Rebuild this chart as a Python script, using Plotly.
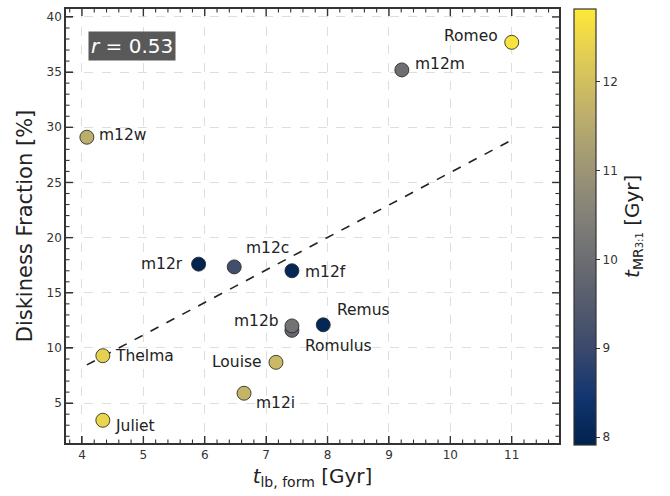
import numpy as np
import plotly.graph_objects as go

# Formation lookback time [Gyr], diskiness fraction [%] and last 3:1 merger time [Gyr]
names = ["Romulus", "m12b", "Romeo", "m12m", "m12w", "m12r", "m12c", "m12f",
         "Remus", "Thelma", "Louise", "m12i", "Juliet"]
t_form = [7.42, 7.42, 11.00, 9.21, 4.08, 5.90, 6.48, 7.42, 7.93, 4.34, 7.16, 6.64, 4.34]
disk_frac = [11.6, 12.0, 37.7, 35.2, 29.1, 17.6, 17.35, 17.0, 12.1, 9.3, 8.7, 5.9, 3.45]
t_merger = [9.85, 10.15, 12.72, 10.0, 11.6, 7.98, 9.15, 8.05, 8.05, 12.35, 11.85, 11.75, 12.45]

x_ticks = [4, 5, 6, 7, 8, 9, 10, 11]
y_ticks = [5, 10, 15, 20, 25, 30, 35, 40]
cbar_ticks = [8, 9, 10, 11, 12]

# label placement: (xanchor, xshift px, yshift px)
label_pos = {
    "Romeo": ("right", -12, 6), "m12m": ("left", 11, 6), "m12w": ("left", 10, 2),
    "m12r": ("right", -14, 0), "m12c": ("left", 10, 19), "m12f": ("left", 11, -1),
    "m12b": ("right", -11, 5), "Romulus": ("left", 11, -16), "Remus": ("left", 12, 15),
    "Thelma": ("left", 10, 0), "Louise": ("right", -12, 0), "m12i": ("left", 10, -10),
    "Juliet": ("left", 10, -6),
}

FONT = "DejaVu Sans"
TICK_COLOR = "#333333"
W, H = 670, 496
M_L, M_R, M_T, M_B = 66, 111, 7, 53
PLOT_W, PLOT_H = W - M_L - M_R, H - M_T - M_B
X_RANGE = [3.74, 11.77]
Y_RANGE = [1.39, 40.72]
C_RANGE = [7.91, 12.82]
CBAR_X, CBAR_THICK = 1.0304, 22

# data units per screen pixel
DX = (X_RANGE[1] - X_RANGE[0]) / PLOT_W
DY = (Y_RANGE[1] - Y_RANGE[0]) / PLOT_H

x = np.array(t_form)
y = np.array(disk_frac)
slope, intercept = np.polyfit(x, y, 1)
r = np.corrcoef(x, y)[0, 1]
xf = np.array([x.min(), x.max()])

fig = go.Figure()
fig.add_trace(go.Scatter(
    x=xf, y=intercept + slope * xf, mode="lines",
    line=dict(color="#222222", width=1.6, dash="dash"),
    hoverinfo="skip", showlegend=False,
))


# inward tick marks on all four frame sides, built as one segmented line trace
def tick_segments(xvals, yvals, length_px):
    sx, sy = [], []
    for v in xvals:
        sx += [v, v, None, v, v, None]
        sy += [Y_RANGE[0], Y_RANGE[0] + length_px * DY, None,
               Y_RANGE[1], Y_RANGE[1] - length_px * DY, None]
    for v in yvals:
        sx += [X_RANGE[0], X_RANGE[0] + length_px * DX, None,
               X_RANGE[1], X_RANGE[1] - length_px * DX, None]
        sy += [v, v, None, v, v, None]
    return sx, sy


x_minor = [v for v in np.round(np.arange(x_ticks[0] - 1, x_ticks[-1] + 1, 0.2), 2)
           if X_RANGE[0] < v < X_RANGE[1] and v not in x_ticks]
y_minor = [v for v in np.arange(y_ticks[0] - 5, y_ticks[-1] + 1, 1)
           if Y_RANGE[0] < v < Y_RANGE[1] and v not in y_ticks]

for xv, yv, ln, wd in ((x_ticks, y_ticks, 7, 1.4), (x_minor, y_minor, 3.5, 1.1)):
    sx, sy = tick_segments(xv, yv, ln)
    fig.add_trace(go.Scatter(x=sx, y=sy, mode="lines", line=dict(color=TICK_COLOR, width=wd),
                             hoverinfo="skip", showlegend=False, cliponaxis=False))

# colour-bar ticks on its right edge (drawn outside the plot area)
cb_right_x = X_RANGE[0] + (CBAR_X * PLOT_W + CBAR_THICK) * DX
cx, cy = [], []
for v in cbar_ticks:
    yv = Y_RANGE[0] + (v - C_RANGE[0]) / (C_RANGE[1] - C_RANGE[0]) * (Y_RANGE[1] - Y_RANGE[0])
    cx += [cb_right_x, cb_right_x + 4 * DX, None]
    cy += [yv, yv, None]
fig.add_trace(go.Scatter(x=cx, y=cy, mode="lines", line=dict(color=TICK_COLOR, width=1.2),
                         hoverinfo="skip", showlegend=False, cliponaxis=False))

fig.add_trace(go.Scatter(
    x=t_form, y=disk_frac, mode="markers", text=names,
    marker=dict(
        size=14, color=t_merger, colorscale="Cividis", cmin=C_RANGE[0], cmax=C_RANGE[1],
        line=dict(color="rgba(40,40,40,0.85)", width=1),
        colorbar=dict(
            thickness=CBAR_THICK, len=PLOT_H, lenmode="pixels", x=CBAR_X, xanchor="left",
            y=1, yanchor="top", xpad=0, ypad=0,
            tickvals=cbar_ticks, ticks="outside", ticklen=4, tickwidth=1.2,
            tickcolor=TICK_COLOR, tickfont=dict(family=FONT, size=12, color="#333"),
            outlinecolor="#333", outlinewidth=1.2,
        ),
    ),
    showlegend=False,
))

for n, xi, yi in zip(names, t_form, disk_frac):
    anchor, dx, dy = label_pos[n]
    fig.add_annotation(
        x=xi, y=yi, text=n, showarrow=False, xanchor=anchor, yanchor="middle",
        xshift=dx, yshift=dy, font=dict(family=FONT, size=15.5, color="#222"),
    )

fig.add_annotation(
    xref="paper", yref="paper", x=0.044, y=0.95, xanchor="left", yanchor="top",
    text=f"<i>r</i> = {r:.2f}", showarrow=False, bgcolor="#595959",
    borderpad=2, font=dict(family=FONT, size=20, color="white"),
)

# colour-bar title
fig.add_annotation(
    xref="paper", yref="paper", x=1.15, y=0.5, xanchor="center", yanchor="middle",
    text="<i>t</i><sub>MR<span style='font-size:10px'>3:1</span></sub> [Gyr]",
    textangle=-90, showarrow=False,
    font=dict(family=FONT, size=20, color="#222"),
)

axis_common = dict(
    showline=True, linecolor="#333", linewidth=1.5, mirror=True,
    ticks="inside", ticklen=7, tickwidth=1.4, tickcolor=TICK_COLOR,
    tickfont=dict(family=FONT, size=12, color="#333"),
    showgrid=True, gridcolor="rgba(0,0,0,0.13)", griddash="dash", gridwidth=1,
    zeroline=False, tickmode="linear",
)
fig.update_xaxes(
    range=X_RANGE, tick0=x_ticks[0], dtick=x_ticks[1] - x_ticks[0], **axis_common,
    title=dict(text="<i>t</i><sub>lb, form</sub> [Gyr]",
               font=dict(family=FONT, size=20, color="#222"), standoff=8),
)
fig.update_yaxes(
    range=Y_RANGE, tick0=y_ticks[0], dtick=y_ticks[1] - y_ticks[0], **axis_common,
    title=dict(text="Diskiness Fraction [%]",
               font=dict(family=FONT, size=21, color="#222"), standoff=8),
)

fig.update_layout(
    width=W, height=H, margin=dict(l=M_L, r=M_R, t=M_T, b=M_B),
    plot_bgcolor="white", paper_bgcolor="white",
    font=dict(family=FONT),
)

fig.write_html("out.html")
